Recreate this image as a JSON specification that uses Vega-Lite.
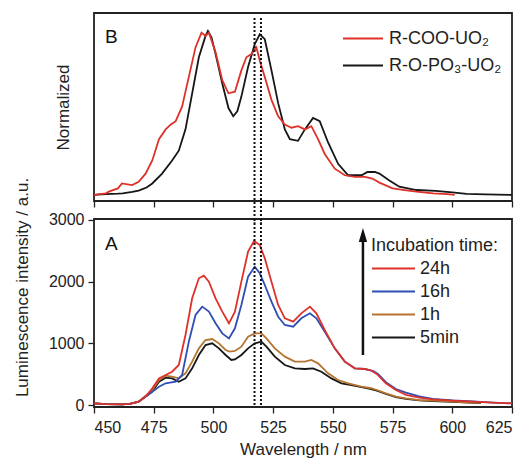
{
  "$schema": "https://vega.github.io/schema/vega-lite/v6.json",
  "padding": {"left": 12, "top": 12, "right": 20, "bottom": 2},
  "bounds": "flush",
  "spacing": 18,
  "config": {
    "font": "Liberation Sans",
    "view": {"stroke": "#222", "strokeWidth": 1.8},
    "axis": {"labelFont": "Liberation Sans", "titleFont": "Liberation Sans", "labelFontSize": 16, "titleFontSize": 17, "titleFontWeight": "normal", "grid": false, "domain": false, "tickColor": "#222", "labelColor": "#222", "titleColor": "#222", "tickWidth": 1.3},
    "legend": {"labelFont": "Liberation Sans", "titleFont": "Liberation Sans", "labelFontSize": 18, "titleFontSize": 18, "titleFontWeight": "normal", "labelColor": "#222", "titleColor": "#222"}
  },
  "resolve": {"scale": {"color": "independent"}, "legend": {"color": "independent"}},
  "datasets": {
    "norm": [
      {"s":"R-O-PO₃-UO₂","wl":450,"v":0.0},{"s":"R-O-PO₃-UO₂","wl":455,"v":0.005},{"s":"R-O-PO₃-UO₂","wl":460,"v":0.008},{"s":"R-O-PO₃-UO₂","wl":462,"v":0.01},{"s":"R-O-PO₃-UO₂","wl":466,"v":0.018},{"s":"R-O-PO₃-UO₂","wl":468.7,"v":0.026},{"s":"R-O-PO₃-UO₂","wl":472,"v":0.045},{"s":"R-O-PO₃-UO₂","wl":474.4,"v":0.07},{"s":"R-O-PO₃-UO₂","wl":478.5,"v":0.13},{"s":"R-O-PO₃-UO₂","wl":482.7,"v":0.21},{"s":"R-O-PO₃-UO₂","wl":485.5,"v":0.27},{"s":"R-O-PO₃-UO₂","wl":488.3,"v":0.40},{"s":"R-O-PO₃-UO₂","wl":491.1,"v":0.62},{"s":"R-O-PO₃-UO₂","wl":493.9,"v":0.84},{"s":"R-O-PO₃-UO₂","wl":496.7,"v":0.97},{"s":"R-O-PO₃-UO₂","wl":497.7,"v":1.0},{"s":"R-O-PO₃-UO₂","wl":499.2,"v":0.96},{"s":"R-O-PO₃-UO₂","wl":500.9,"v":0.86},{"s":"R-O-PO₃-UO₂","wl":503.7,"v":0.68},{"s":"R-O-PO₃-UO₂","wl":506.3,"v":0.53},{"s":"R-O-PO₃-UO₂","wl":508.3,"v":0.48},{"s":"R-O-PO₃-UO₂","wl":510,"v":0.51},{"s":"R-O-PO₃-UO₂","wl":511.7,"v":0.60},{"s":"R-O-PO₃-UO₂","wl":514.5,"v":0.78},{"s":"R-O-PO₃-UO₂","wl":517.3,"v":0.92},{"s":"R-O-PO₃-UO₂","wl":519.4,"v":0.98},{"s":"R-O-PO₃-UO₂","wl":521.5,"v":0.95},{"s":"R-O-PO₃-UO₂","wl":524.3,"v":0.76},{"s":"R-O-PO₃-UO₂","wl":527.1,"v":0.56},{"s":"R-O-PO₃-UO₂","wl":529.9,"v":0.40},{"s":"R-O-PO₃-UO₂","wl":532,"v":0.34},{"s":"R-O-PO₃-UO₂","wl":535.4,"v":0.33},{"s":"R-O-PO₃-UO₂","wl":538.3,"v":0.40},{"s":"R-O-PO₃-UO₂","wl":541.7,"v":0.47},{"s":"R-O-PO₃-UO₂","wl":544.5,"v":0.45},{"s":"R-O-PO₃-UO₂","wl":548,"v":0.32},{"s":"R-O-PO₃-UO₂","wl":552.2,"v":0.19},{"s":"R-O-PO₃-UO₂","wl":556.4,"v":0.12},{"s":"R-O-PO₃-UO₂","wl":562,"v":0.12},{"s":"R-O-PO₃-UO₂","wl":564.5,"v":0.14},{"s":"R-O-PO₃-UO₂","wl":567.6,"v":0.14},{"s":"R-O-PO₃-UO₂","wl":569.5,"v":0.13},{"s":"R-O-PO₃-UO₂","wl":573.5,"v":0.09},{"s":"R-O-PO₃-UO₂","wl":577.8,"v":0.05},{"s":"R-O-PO₃-UO₂","wl":585,"v":0.03},{"s":"R-O-PO₃-UO₂","wl":593,"v":0.025},{"s":"R-O-PO₃-UO₂","wl":600,"v":0.015},{"s":"R-O-PO₃-UO₂","wl":606,"v":0.006},{"s":"R-O-PO₃-UO₂","wl":614,"v":0.003},{"s":"R-O-PO₃-UO₂","wl":625,"v":0.0},
      {"s":"R-COO-UO₂","wl":450,"v":0.0},{"s":"R-COO-UO₂","wl":455,"v":0.01},{"s":"R-COO-UO₂","wl":456.2,"v":0.02},{"s":"R-COO-UO₂","wl":460,"v":0.04},{"s":"R-COO-UO₂","wl":461.7,"v":0.07},{"s":"R-COO-UO₂","wl":464,"v":0.065},{"s":"R-COO-UO₂","wl":466,"v":0.06},{"s":"R-COO-UO₂","wl":468.7,"v":0.08},{"s":"R-COO-UO₂","wl":471.6,"v":0.13},{"s":"R-COO-UO₂","wl":474.4,"v":0.21},{"s":"R-COO-UO₂","wl":477.2,"v":0.34},{"s":"R-COO-UO₂","wl":480,"v":0.40},{"s":"R-COO-UO₂","wl":482.2,"v":0.43},{"s":"R-COO-UO₂","wl":484.2,"v":0.45},{"s":"R-COO-UO₂","wl":486.9,"v":0.54},{"s":"R-COO-UO₂","wl":489.7,"v":0.72},{"s":"R-COO-UO₂","wl":492.5,"v":0.90},{"s":"R-COO-UO₂","wl":495,"v":0.99},{"s":"R-COO-UO₂","wl":496.7,"v":0.97},{"s":"R-COO-UO₂","wl":498.1,"v":0.99},{"s":"R-COO-UO₂","wl":500.9,"v":0.87},{"s":"R-COO-UO₂","wl":503.7,"v":0.70},{"s":"R-COO-UO₂","wl":506.3,"v":0.62},{"s":"R-COO-UO₂","wl":509,"v":0.63},{"s":"R-COO-UO₂","wl":511.7,"v":0.76},{"s":"R-COO-UO₂","wl":513.8,"v":0.84},{"s":"R-COO-UO₂","wl":515.9,"v":0.86},{"s":"R-COO-UO₂","wl":518,"v":0.90},{"s":"R-COO-UO₂","wl":519.4,"v":0.82},{"s":"R-COO-UO₂","wl":521.5,"v":0.72},{"s":"R-COO-UO₂","wl":524.3,"v":0.58},{"s":"R-COO-UO₂","wl":527.1,"v":0.48},{"s":"R-COO-UO₂","wl":529.9,"v":0.43},{"s":"R-COO-UO₂","wl":532.7,"v":0.41},{"s":"R-COO-UO₂","wl":535.4,"v":0.42},{"s":"R-COO-UO₂","wl":538.3,"v":0.40},{"s":"R-COO-UO₂","wl":541,"v":0.42},{"s":"R-COO-UO₂","wl":543.8,"v":0.34},{"s":"R-COO-UO₂","wl":546.6,"v":0.25},{"s":"R-COO-UO₂","wl":550.8,"v":0.16},{"s":"R-COO-UO₂","wl":555,"v":0.12},{"s":"R-COO-UO₂","wl":559.2,"v":0.11},{"s":"R-COO-UO₂","wl":563.4,"v":0.11},{"s":"R-COO-UO₂","wl":566.5,"v":0.10},{"s":"R-COO-UO₂","wl":569.5,"v":0.075},{"s":"R-COO-UO₂","wl":575,"v":0.04},{"s":"R-COO-UO₂","wl":580,"v":0.03},{"s":"R-COO-UO₂","wl":585,"v":0.02},{"s":"R-COO-UO₂","wl":592,"v":0.01},{"s":"R-COO-UO₂","wl":598,"v":0.005},{"s":"R-COO-UO₂","wl":601,"v":0.0}
    ],
    "lum": [
      {"s":"5min","wl":450,"v":27},{"s":"5min","wl":455,"v":15},{"s":"5min","wl":461.7,"v":10},{"s":"5min","wl":465,"v":20},{"s":"5min","wl":468.7,"v":54},{"s":"5min","wl":474.4,"v":216},{"s":"5min","wl":477.2,"v":378},{"s":"5min","wl":480,"v":443},{"s":"5min","wl":482.7,"v":432},{"s":"5min","wl":485.5,"v":378},{"s":"5min","wl":488.3,"v":432},{"s":"5min","wl":491.1,"v":595},{"s":"5min","wl":493.9,"v":811},{"s":"5min","wl":496.7,"v":973},{"s":"5min","wl":499.5,"v":1000},{"s":"5min","wl":502.3,"v":919},{"s":"5min","wl":505.1,"v":811},{"s":"5min","wl":507.5,"v":730},{"s":"5min","wl":509,"v":740},{"s":"5min","wl":511.7,"v":811},{"s":"5min","wl":514.5,"v":919},{"s":"5min","wl":517.3,"v":1000},{"s":"5min","wl":520.1,"v":1027},{"s":"5min","wl":522.2,"v":946},{"s":"5min","wl":525.7,"v":784},{"s":"5min","wl":529.9,"v":649},{"s":"5min","wl":534.1,"v":595},{"s":"5min","wl":538.3,"v":584},{"s":"5min","wl":541.7,"v":595},{"s":"5min","wl":545.2,"v":540},{"s":"5min","wl":549.4,"v":432},{"s":"5min","wl":553.6,"v":352},{"s":"5min","wl":557.8,"v":324},{"s":"5min","wl":562,"v":290},{"s":"5min","wl":566,"v":258},{"s":"5min","wl":568.1,"v":236},{"s":"5min","wl":572.2,"v":182},{"s":"5min","wl":576.4,"v":128},{"s":"5min","wl":580.6,"v":100},{"s":"5min","wl":586.2,"v":75},{"s":"5min","wl":591.8,"v":64},{"s":"5min","wl":600.2,"v":50},{"s":"5min","wl":605,"v":42},{"s":"5min","wl":612,"v":32},
      {"s":"1h","wl":450,"v":27},{"s":"1h","wl":455,"v":15},{"s":"1h","wl":461.7,"v":10},{"s":"1h","wl":465,"v":20},{"s":"1h","wl":468.7,"v":54},{"s":"1h","wl":474.4,"v":243},{"s":"1h","wl":477.2,"v":405},{"s":"1h","wl":480,"v":476},{"s":"1h","wl":482.7,"v":460},{"s":"1h","wl":485.5,"v":432},{"s":"1h","wl":488.3,"v":514},{"s":"1h","wl":491.1,"v":703},{"s":"1h","wl":493.9,"v":919},{"s":"1h","wl":496.7,"v":1054},{"s":"1h","wl":499.5,"v":1070},{"s":"1h","wl":502.3,"v":1000},{"s":"1h","wl":505.1,"v":892},{"s":"1h","wl":506.8,"v":865},{"s":"1h","wl":509,"v":876},{"s":"1h","wl":511.7,"v":946},{"s":"1h","wl":514.5,"v":1108},{"s":"1h","wl":517.3,"v":1162},{"s":"1h","wl":520.1,"v":1162},{"s":"1h","wl":522.2,"v":1081},{"s":"1h","wl":525.7,"v":919},{"s":"1h","wl":529.9,"v":784},{"s":"1h","wl":534.1,"v":703},{"s":"1h","wl":538.3,"v":703},{"s":"1h","wl":541,"v":730},{"s":"1h","wl":543.8,"v":676},{"s":"1h","wl":548,"v":514},{"s":"1h","wl":552.2,"v":405},{"s":"1h","wl":556.4,"v":352},{"s":"1h","wl":562,"v":297},{"s":"1h","wl":566,"v":272},{"s":"1h","wl":568.1,"v":248},{"s":"1h","wl":572.2,"v":189},{"s":"1h","wl":576.4,"v":135},{"s":"1h","wl":580.6,"v":108},{"s":"1h","wl":586.2,"v":81},{"s":"1h","wl":591.8,"v":70},{"s":"1h","wl":600.2,"v":54},{"s":"1h","wl":605,"v":45},{"s":"1h","wl":612,"v":35},
      {"s":"16h","wl":450,"v":27},{"s":"16h","wl":455,"v":15},{"s":"16h","wl":461.7,"v":10},{"s":"16h","wl":465,"v":20},{"s":"16h","wl":468.7,"v":54},{"s":"16h","wl":474.4,"v":216},{"s":"16h","wl":477.2,"v":297},{"s":"16h","wl":480,"v":352},{"s":"16h","wl":484.2,"v":378},{"s":"16h","wl":486.9,"v":487},{"s":"16h","wl":489.7,"v":1027},{"s":"16h","wl":492.5,"v":1460},{"s":"16h","wl":495.3,"v":1595},{"s":"16h","wl":498.1,"v":1514},{"s":"16h","wl":500.9,"v":1325},{"s":"16h","wl":503.7,"v":1162},{"s":"16h","wl":506.5,"v":1081},{"s":"16h","wl":509,"v":1244},{"s":"16h","wl":511.7,"v":1622},{"s":"16h","wl":514.5,"v":2081},{"s":"16h","wl":517.3,"v":2243},{"s":"16h","wl":519.4,"v":2136},{"s":"16h","wl":521.5,"v":1946},{"s":"16h","wl":524.3,"v":1676},{"s":"16h","wl":527.1,"v":1432},{"s":"16h","wl":529.9,"v":1298},{"s":"16h","wl":533.4,"v":1270},{"s":"16h","wl":536.8,"v":1406},{"s":"16h","wl":540.4,"v":1487},{"s":"16h","wl":543.1,"v":1406},{"s":"16h","wl":546.6,"v":1189},{"s":"16h","wl":550.8,"v":919},{"s":"16h","wl":555,"v":703},{"s":"16h","wl":559.2,"v":595},{"s":"16h","wl":563.4,"v":584},{"s":"16h","wl":567,"v":551},{"s":"16h","wl":569,"v":500},{"s":"16h","wl":572.2,"v":370},{"s":"16h","wl":576.4,"v":260},{"s":"16h","wl":580.6,"v":200},{"s":"16h","wl":586.2,"v":140},{"s":"16h","wl":591.8,"v":100},{"s":"16h","wl":600.2,"v":75},{"s":"16h","wl":608.5,"v":58},{"s":"16h","wl":616.9,"v":40},{"s":"16h","wl":625,"v":27},
      {"s":"24h","wl":450,"v":27},{"s":"24h","wl":455,"v":15},{"s":"24h","wl":461.7,"v":10},{"s":"24h","wl":465,"v":20},{"s":"24h","wl":468.7,"v":54},{"s":"24h","wl":471.6,"v":135},{"s":"24h","wl":474.4,"v":270},{"s":"24h","wl":477.2,"v":432},{"s":"24h","wl":480,"v":487},{"s":"24h","wl":482.7,"v":540},{"s":"24h","wl":485.5,"v":649},{"s":"24h","wl":488.3,"v":1135},{"s":"24h","wl":491.1,"v":1730},{"s":"24h","wl":493.9,"v":2055},{"s":"24h","wl":496,"v":2097},{"s":"24h","wl":498.1,"v":2000},{"s":"24h","wl":500.9,"v":1730},{"s":"24h","wl":503.7,"v":1514},{"s":"24h","wl":506.5,"v":1325},{"s":"24h","wl":509,"v":1514},{"s":"24h","wl":511.7,"v":2000},{"s":"24h","wl":514.5,"v":2487},{"s":"24h","wl":517,"v":2660},{"s":"24h","wl":519.4,"v":2595},{"s":"24h","wl":521.5,"v":2379},{"s":"24h","wl":524.3,"v":2000},{"s":"24h","wl":527.1,"v":1622},{"s":"24h","wl":529.9,"v":1406},{"s":"24h","wl":533.4,"v":1351},{"s":"24h","wl":536.8,"v":1487},{"s":"24h","wl":540.4,"v":1595},{"s":"24h","wl":543.1,"v":1487},{"s":"24h","wl":546.6,"v":1216},{"s":"24h","wl":550.8,"v":919},{"s":"24h","wl":555,"v":703},{"s":"24h","wl":559.2,"v":595},{"s":"24h","wl":563.4,"v":584},{"s":"24h","wl":566,"v":560},{"s":"24h","wl":568.5,"v":500},{"s":"24h","wl":572.2,"v":352},{"s":"24h","wl":576.4,"v":243},{"s":"24h","wl":580.6,"v":165},{"s":"24h","wl":586.2,"v":120},{"s":"24h","wl":591.8,"v":92},{"s":"24h","wl":600.2,"v":70},{"s":"24h","wl":608.5,"v":54},{"s":"24h","wl":616.9,"v":38},{"s":"24h","wl":625,"v":27}
    ],
    "marks": [{"wl": 517.2}, {"wl": 519.9}]
  },
  "vconcat": [
    {
      "width": 418,
      "height": 188,
      "layer": [
        {
          "data": {"name": "norm"},
          "mark": {"type": "line", "strokeWidth": 1.8, "interpolate": "linear"},
          "encoding": {
            "x": {"field": "wl", "type": "quantitative", "scale": {"domain": [450, 625], "nice": false, "zero": false},
              "axis": {"title": null, "labels": false, "values": [450,462.5,475,487.5,500,512.5,525,537.5,550,562.5,575,587.5,600,612.5,625], "tickSize": {"condition": {"test": "datum.value % 25 !== 0", "value": 3}, "value": 6}}},
            "y": {"field": "v", "type": "quantitative", "scale": {"domain": [-0.037, 1.11], "nice": false, "zero": false},
              "axis": {"title": "Normalized", "labels": false, "ticks": false, "titlePadding": 22}},
            "color": {"field": "s", "type": "nominal", "scale": {"domain": ["R-COO-UO₂", "R-O-PO₃-UO₂"], "range": ["#dd3129", "#161616"]},
              "legend": {"title": null, "orient": "none", "legendX": 248, "legendY": 13, "symbolType": "stroke", "symbolSize": 1600, "symbolStrokeWidth": 2, "labelOffset": 5, "labelFontSize": 18, "clipHeight": 25, "rowPadding": 2}}
          }
        },
        {
          "data": {"name": "marks"},
          "mark": {"type": "rule", "strokeDash": [2, 2], "strokeWidth": 2, "color": "#111"},
          "encoding": {"x": {"field": "wl", "type": "quantitative"}, "y": {"datum": 1.08}, "y2": {"datum": -0.17}}
        },
        {
          "data": {"values": [{}]},
          "mark": {"type": "text", "align": "left", "baseline": "middle", "fontSize": 19, "color": "#111"},
          "encoding": {"x": {"datum": 454.6}, "y": {"datum": 0.963}, "text": {"value": "B"}}
        }
      ]
    },
    {
      "width": 418,
      "height": 188,
      "layer": [
        {
          "data": {"name": "lum"},
          "mark": {"type": "line", "strokeWidth": 1.8},
          "encoding": {
            "x": {"field": "wl", "type": "quantitative", "scale": {"domain": [450, 625], "nice": false, "zero": false},
              "axis": {"title": "Wavelength / nm", "values": [450,462.5,475,487.5,500,512.5,525,537.5,550,562.5,575,587.5,600,612.5,625], "labelExpr": "datum.value % 25 === 0 ? datum.label : ''", "labelPadding": 6, "titlePadding": 6, "tickSize": {"condition": {"test": "datum.value % 25 !== 0", "value": 3}, "value": 6}}},
            "y": {"field": "v", "type": "quantitative", "scale": {"domain": [-32, 3016], "nice": false, "zero": false},
              "axis": {"title": "Luminescence intensity / a.u.", "values": [0,500,1000,1500,2000,2500,3000], "format": "d", "labelExpr": "datum.value % 1000 === 0 ? datum.label : ''", "labelPadding": 4, "titleY": 68, "titleX": -67, "titleBaseline": "alphabetic", "tickSize": {"condition": {"test": "datum.value % 1000 !== 0", "value": 3}, "value": 6}}},
            "color": {"field": "s", "type": "nominal", "scale": {"domain": ["24h", "16h", "1h", "5min"], "range": ["#dd3129", "#2f4fb3", "#b5752f", "#161616"]},
              "legend": {"title": "Incubation time:", "orient": "none", "legendX": 277, "legendY": 18, "symbolType": "stroke", "symbolSize": 1849, "symbolStrokeWidth": 2, "labelOffset": 4, "labelFontSize": 18, "titleFontSize": 18, "titlePadding": 3, "clipHeight": 21, "rowPadding": 2}}
          }
        },
        {
          "data": {"name": "marks"},
          "mark": {"type": "rule", "strokeDash": [2, 2], "strokeWidth": 2, "color": "#111"},
          "encoding": {"x": {"field": "wl", "type": "quantitative"}}
        },
        {
          "data": {"values": [{}]},
          "mark": {"type": "rule", "strokeWidth": 2.5, "color": "#111"},
          "encoding": {"x": {"datum": 562.6}, "y": {"datum": 811}, "y2": {"datum": 2700}}
        },
        {
          "data": {"values": [{}]},
          "mark": {"type": "point", "shape": "M0,-1L0.6,1L-0.6,1Z", "size": 196, "filled": true, "opacity": 1, "color": "#111"},
          "encoding": {"x": {"datum": 562.6}, "y": {"datum": 2757}}
        },
        {
          "data": {"values": [{}]},
          "mark": {"type": "text", "align": "left", "baseline": "middle", "fontSize": 19, "color": "#111"},
          "encoding": {"x": {"datum": 454.6}, "y": {"datum": 2611}, "text": {"value": "A"}}
        }
      ]
    }
  ]
}
